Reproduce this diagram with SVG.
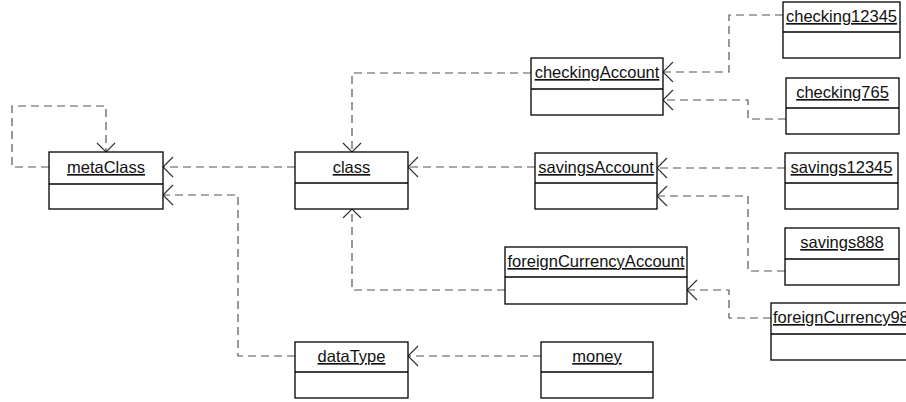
<svg xmlns="http://www.w3.org/2000/svg" width="906" height="402" viewBox="0 0 906 402">
<style>
.box{fill:#fff;stroke:#000;stroke-width:1.3}
.div{stroke:#000;stroke-width:1.3}
.t{font-family:"Liberation Sans",Arial,sans-serif;font-size:16.5px;fill:#111;text-anchor:middle;text-decoration:underline}
.c{fill:none;stroke:#555;stroke-width:1.2;stroke-dasharray:8,5}
.ah{fill:none;stroke:#333;stroke-width:1.2}
</style>
<rect width="906" height="402" fill="#fff"/>
<g id="connectors">
<path class="c" d="M49,167 H12 V106 H106 V152"/>
<path class="ah" d="M97,143 L106,152 L115,143"/>
<path class="c" d="M295,167 H163"/>
<path class="ah" d="M173,157 L163,167 L173,177"/>
<path class="c" d="M295,356 H238 V195 H163"/>
<path class="ah" d="M173,185 L163,195 L173,205"/>
<path class="c" d="M531,73 H352 V152"/>
<path class="ah" d="M343,143 L352,152 L361,143"/>
<path class="c" d="M535,167 H408"/>
<path class="ah" d="M418,157 L408,167 L418,177"/>
<path class="c" d="M505,290 H352 V209"/>
<path class="ah" d="M343,218 L352,209 L361,218"/>
<path class="c" d="M541,356 H408"/>
<path class="ah" d="M418,346 L408,356 L418,366"/>
<path class="c" d="M783,15 H729 V72 H663"/>
<path class="ah" d="M673,62 L663,72 L673,82"/>
<path class="c" d="M786,119 H748 V100 H663"/>
<path class="ah" d="M673,90 L663,100 L673,110"/>
<path class="c" d="M785,168 H657"/>
<path class="ah" d="M667,158 L657,168 L667,178"/>
<path class="c" d="M785,271 H748 V196 H657"/>
<path class="ah" d="M667,186 L657,196 L667,206"/>
<path class="c" d="M771,318 H729 V290 H687"/>
<path class="ah" d="M697,280 L687,290 L697,300"/>
</g>
<g id="metaClass"><rect class="box" x="49" y="152" width="114" height="57"/><line class="div" x1="49" y1="184" x2="163" y2="184"/><text class="t" x="106" y="173">metaClass</text></g>
<g id="class"><rect class="box" x="295" y="152" width="113" height="57"/><line class="div" x1="295" y1="183" x2="408" y2="183"/><text class="t" x="351.5" y="173">class</text></g>
<g id="checkingAccount"><rect class="box" x="531" y="58" width="132" height="57"/><line class="div" x1="531" y1="89" x2="663" y2="89"/><text class="t" x="597" y="78">checkingAccount</text></g>
<g id="checking12345"><rect class="box" x="783" y="2" width="117" height="56"/><line class="div" x1="783" y1="32" x2="900" y2="32"/><text class="t" x="841.5" y="22">checking12345</text></g>
<g id="checking765"><rect class="box" x="786" y="78" width="113" height="56"/><line class="div" x1="786" y1="108" x2="899" y2="108"/><text class="t" x="842.5" y="98">checking765</text></g>
<g id="savingsAccount"><rect class="box" x="535" y="153" width="122" height="56"/><line class="div" x1="535" y1="183" x2="657" y2="183"/><text class="t" x="596" y="173">savingsAccount</text></g>
<g id="savings12345"><rect class="box" x="785" y="153" width="113" height="56"/><line class="div" x1="785" y1="183" x2="898" y2="183"/><text class="t" x="841.5" y="173">savings12345</text></g>
<g id="savings888"><rect class="box" x="785" y="228" width="114" height="57"/><line class="div" x1="785" y1="259" x2="899" y2="259"/><text class="t" x="842" y="248">savings888</text></g>
<g id="foreignCurrencyAccount"><rect class="box" x="505" y="247" width="182" height="57"/><line class="div" x1="505" y1="277" x2="687" y2="277"/><text class="t" x="596" y="267">foreignCurrencyAccount</text></g>
<g id="foreignCurrency98"><rect class="box" x="771" y="303" width="150" height="57"/><line class="div" x1="771" y1="334" x2="921" y2="334"/><text class="t" x="773" y="323" style="text-anchor:start">foreignCurrency98</text></g>
<g id="dataType"><rect class="box" x="295" y="342" width="113" height="56"/><line class="div" x1="295" y1="372" x2="408" y2="372"/><text class="t" x="351.5" y="362">dataType</text></g>
<g id="money"><rect class="box" x="541" y="342" width="112" height="56"/><line class="div" x1="541" y1="372" x2="653" y2="372"/><text class="t" x="597" y="362">money</text></g>
</svg>
